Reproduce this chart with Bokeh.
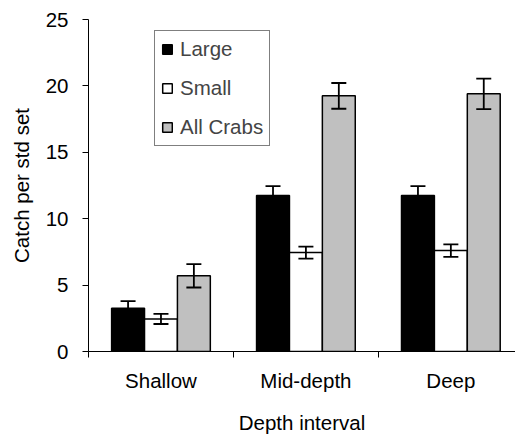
from bokeh.plotting import figure
from bokeh.models import (ColumnDataSource, Whisker, TeeHead, FixedTicker, Range1d, Legend, LegendItem)
from bokeh.embed import file_html
from bokeh.resources import INLINE

categories = ["Shallow", "Mid-depth", "Deep"]
series_names = ["Large", "Small", "All Crabs"]
large = [3.25, 11.75, 11.75]
large_err = [0.55, 0.7, 0.7]
small = [2.45, 7.45, 7.6]
small_err = [0.38, 0.45, 0.47]
allcrabs = [5.7, 19.25, 19.4]
allcrabs_err = [0.88, 0.97, 1.15]
y_ticks = [0, 5, 10, 15, 20, 25]

series_vals = [large, small, allcrabs]
series_errs = [large_err, small_err, allcrabs_err]
fills = ["#000000", "#FFFFFF", "#C0C0C0"]
offsets = [-0.227, 0.0, 0.227]
bar_w = 0.227

FONT = "Liberation Sans"
FS = "20.5px"

p = figure(width=515, height=436, output_backend="svg", toolbar_location=None,
           x_range=Range1d(0, 2.946), y_range=Range1d(0, 25),
           min_border_left=88, min_border_right=0, min_border_top=19, min_border_bottom=84)
p.outline_line_color = None
p.xgrid.grid_line_color = None
p.ygrid.grid_line_color = None
p.background_fill_color = "white"
p.border_fill_color = "white"

items = []
for k in range(3):
    xs = [i + 0.5 + offsets[k] for i in range(len(categories))]
    vals = series_vals[k]
    errs = series_errs[k]
    src = ColumnDataSource(dict(x=xs, top=vals,
                                upper=[v + e for v, e in zip(vals, errs)],
                                lower=[v - e for v, e in zip(vals, errs)]))
    r = p.vbar(x="x", top="top", bottom=0, width=bar_w, source=src,
               fill_color=fills[k], line_color="black", line_width=1.5)
    items.append(LegendItem(label=series_names[k], renderers=[r]))
    w = Whisker(source=src, base="x", upper="upper", lower="lower", dimension="height",
                line_color="black", line_width=1.8, level="overlay",
                upper_head=TeeHead(size=15, line_color="black", line_width=1.8),
                lower_head=TeeHead(size=15, line_color="black", line_width=1.8))
    p.add_layout(w)

legend = Legend(items=items, location=(66, 205), padding=6, spacing=15, margin=0,
                glyph_width=12, glyph_height=12, label_height=20, label_standoff=7,
                label_text_font=FONT, label_text_font_size=FS,
                border_line_color="black", border_line_width=1,
                background_fill_alpha=1.0)
p.add_layout(legend)

p.xaxis.ticker = FixedTicker(ticks=[i + 0.5 for i in range(len(categories))],
                             minor_ticks=list(range(len(categories) + 1)))
p.xaxis.major_label_overrides = {i + 0.5: c for i, c in enumerate(categories)}
p.xaxis.major_tick_out = 0
p.xaxis.major_tick_in = 0
p.xaxis.minor_tick_out = 6
p.xaxis.minor_tick_in = 0
p.xaxis.major_label_standoff = 11
p.xaxis.axis_label = "Depth interval"
p.xaxis.axis_label_standoff = 16

p.yaxis.ticker = FixedTicker(ticks=y_ticks)
p.yaxis.major_tick_out = 6
p.yaxis.major_tick_in = 0
p.yaxis.major_label_standoff = 14
p.yaxis.axis_label = "Catch per std set"
p.yaxis.axis_label_standoff = 10

for ax in (p.xaxis[0], p.yaxis[0]):
    ax.axis_line_color = "black"
    ax.axis_line_width = 1
    ax.major_tick_line_color = "black"
    ax.minor_tick_line_color = "black" if ax is p.xaxis[0] else None
    ax.major_label_text_font = FONT
    ax.major_label_text_font_size = FS
    ax.major_label_text_color = "black"
    ax.axis_label_text_font = FONT
    ax.axis_label_text_font_size = FS
    ax.axis_label_text_font_style = "normal"
    ax.axis_label_text_color = "black"

open("out.html", "w").write(file_html(p, INLINE))
